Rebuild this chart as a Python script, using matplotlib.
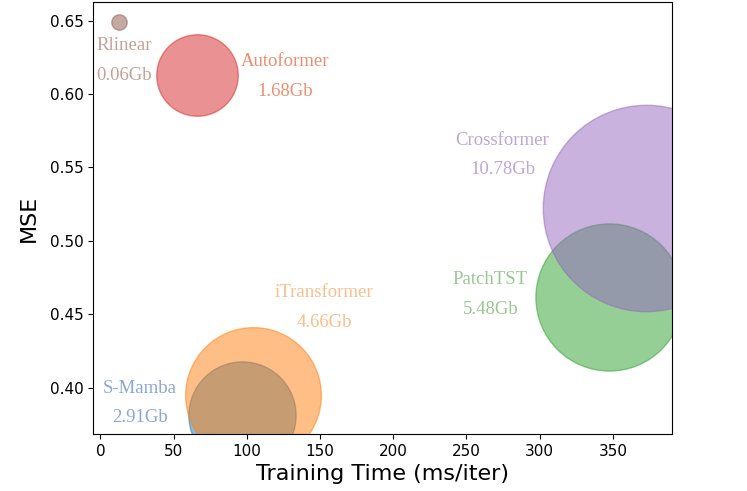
import matplotlib
matplotlib.use("Agg")
import matplotlib.pyplot as plt

# models, training time (ms/iter), MSE, memory (Gb)
models = ['S-Mamba', 'iTransformer', 'Rlinear', 'Autoformer', 'PatchTST', 'Crossformer']
train_time = [96.8, 104.4, 12.8, 65.7, 347.3, 372.5]
mse = [0.3817, 0.3948, 0.6493, 0.6130, 0.4618, 0.5222]
memory = [2.91, 4.66, 0.06, 1.68, 5.48, 10.78]
colors = ['tab:blue', 'tab:orange', 'tab:brown', 'tab:red', 'tab:green', 'tab:purple']

# label placement (data coords) and label colours
label_x = [27, 152.7, 16, 126.4, 266.4, 274.6]
label_y = [0.3996, 0.4647, 0.6328, 0.6219, 0.4734, 0.5687]
label_colors = ['#8CA6D8', '#F9BE8C', '#C4A198', '#EC8F70', '#98C890', '#BDA6D9']

size_scale = 2050

fig = plt.figure(figsize=(7.47, 4.91), dpi=100)
ax = fig.add_axes([0.1249, 0.1161, 0.7751, 0.8798])

for i in range(len(models)):
    ax.scatter(train_time[i], mse[i], s=memory[i] * size_scale, color=colors[i],
               alpha=0.5, edgecolors=colors[i], linewidths=1)
    ax.text(label_x[i], label_y[i], models[i], color=label_colors[i],
            fontsize=13.5, family='Liberation Serif', ha='center', va='center')
    ax.text(label_x[i], label_y[i] - 0.02, f'{memory[i]:.2f}Gb', color=label_colors[i],
            fontsize=13.5, family='Liberation Serif', ha='center', va='center')

ax.set_xlim(-4.9, 390.6)
ax.set_ylim(0.3685, 0.6627)
ax.set_xticks([0, 50, 100, 150, 200, 250, 300, 350])
ax.set_yticks([0.40, 0.45, 0.50, 0.55, 0.60, 0.65])
ax.tick_params(labelsize=11)
ax.set_xlabel('Training Time (ms/iter)', fontsize=16)
ax.set_ylabel('MSE', fontsize=16, labelpad=8)

fig.savefig('out.png', dpi=100)
